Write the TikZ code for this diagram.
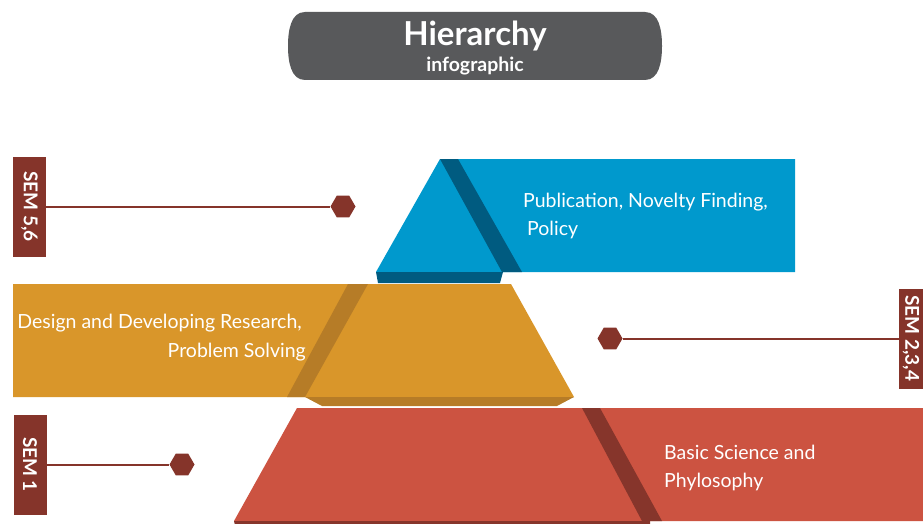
\documentclass[tikz,border=0pt]{standalone}
\usepackage{fontspec}
\setmainfont{Lato}
\usetikzlibrary{shapes.geometric}
\definecolor{blueL}{HTML}{0099CD}
\definecolor{blueD}{HTML}{005B80}
\definecolor{orangeL}{HTML}{D9962A}
\definecolor{orangeD}{HTML}{B67C27}
\definecolor{redL}{HTML}{CC5341}
\definecolor{redD}{HTML}{86352B}
\definecolor{semred}{HTML}{85342A}
\definecolor{titlegray}{HTML}{58595B}
\tikzset{
  semtag/.style={fill=semred, text=white, font=\bfseries\fontsize{19}{19}\selectfont, rotate=-90, minimum width=100pt, minimum height=33pt, inner sep=0pt},
  hexdot/.style={regular polygon, regular polygon sides=6, fill=semred, minimum size=25pt, inner sep=0pt},
  leader/.style={draw=semred, line width=2pt},
  bodytext/.style={text=white, font=\fontsize{19.5}{28}\selectfont, inner sep=0pt}
}
\begin{document}
\begin{tikzpicture}[x=1pt,y=-1pt]
\useasboundingbox (0,0) rectangle (923,524);
\clip (0,0) rectangle (923,524);
% title pill
\fill[titlegray] (305,12) -- (645,12) .. controls (659,12) and (662,30) .. (662,46) .. controls (662,62) and (659,80) .. (645,80) -- (305,80) .. controls (291,80) and (288,62) .. (288,46) .. controls (288,30) and (291,12) .. (305,12) -- cycle;
\node[text=white, font=\bfseries\fontsize{33}{33}\selectfont, inner sep=0pt, anchor=base] (ttl) at (475,46) {Hierarchy};
\node[text=white, font=\bfseries\fontsize{19.5}{19.5}\selectfont, inner sep=0pt, anchor=base] (sub) at (475,72) {infographic};
% blue layer
\fill[blueL] (440,159) -- (795,159) -- (795,272) -- (376,272) -- cycle;
\fill[blueD] (440,159) -- (458,159) -- (522,272) -- (502,272) -- cycle;
\fill[blueD] (376,272) -- (503,272) -- (500,283) -- (378,283) -- cycle;
% orange layer
\fill[orangeL] (13,284) -- (511,284) -- (574,397) -- (13,397) -- cycle;
\fill[orangeD] (348,284) -- (368,284) -- (305,397) -- (287,397) -- cycle;
\fill[orangeD] (305,397) -- (574,397) -- (557,406) -- (322,406) -- cycle;
% red layer
\fill[redL] (297,408) -- (923,408) -- (923,521) -- (234,521) -- cycle;
\fill[redD] (582,408) -- (600,408) -- (662,521) -- (642,521) -- cycle;
\fill[redD] (234,521) -- (650,521) -- (650,530) -- (236,530) -- cycle;
% texts
\node[bodytext, anchor=base west] (pub1) at (523,207) {Publication, Novelty Finding,};
\node[bodytext, anchor=base west] (pub2) at (527,235) {Policy};
\node[bodytext, anchor=base east] (des1) at (302,328) {Design and Developing Research,};
\node[bodytext, anchor=base east] (des2) at (306,357) {Problem Solving};
\node[bodytext, anchor=base west] (bas1) at (664,459) {Basic Science and};
\node[bodytext, anchor=base west] (bas2) at (664,487) {Phylosophy};
% SEM tags
\node[semtag] (sem56) at (29.5,206.5) {SEM 5,6};
\node[hexdot] (hex56) at (343,206.5) {};
\draw[leader] (sem56) -- (hex56);
\node[semtag, minimum height=24pt] (sem234) at (911,338.5) {SEM 2,3,4};
\node[hexdot] (hex234) at (610,338.5) {};
\draw[leader] (hex234) -- (sem234);
\node[semtag] (sem1) at (30,464.5) {SEM 1};
\node[hexdot] (hex1) at (182,464.5) {};
\draw[leader] (sem1) -- (hex1);
\end{tikzpicture}
\end{document}
